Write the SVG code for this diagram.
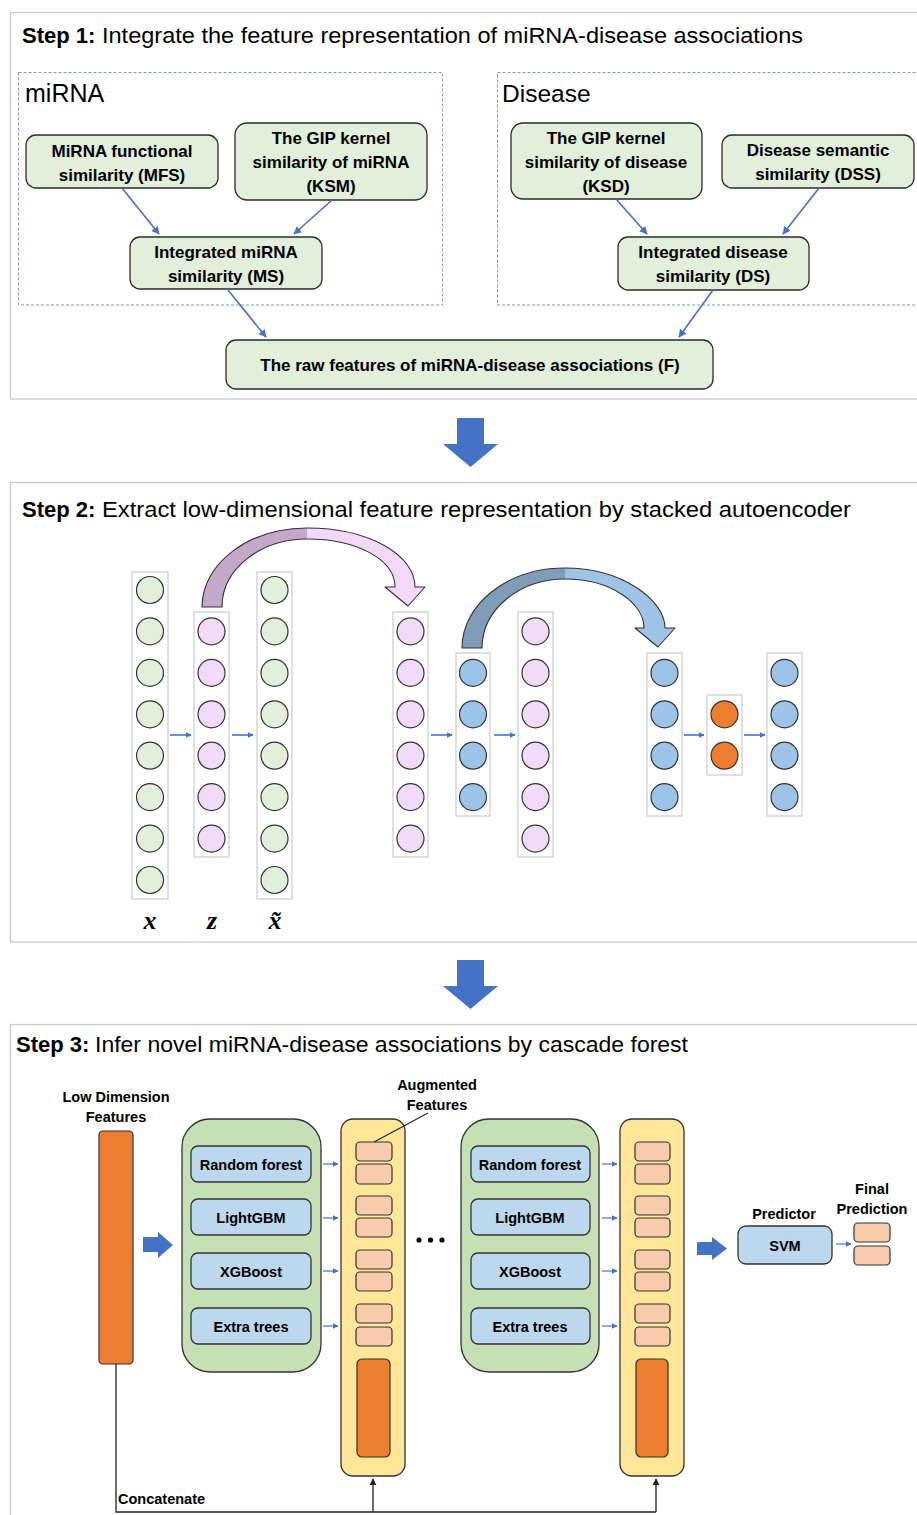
<svg xmlns="http://www.w3.org/2000/svg" width="917" height="1515" viewBox="0 0 917 1515">
<defs>
<style>
.panel{fill:#fff;stroke:#c3c8d1;stroke-width:1.3}
.dash{fill:none;stroke:#8497b0;stroke-width:1;stroke-dasharray:3 2}
.gnode{fill:#e2efda;stroke:#2b2b2b;stroke-width:1.3}
.t{font-family:"Liberation Sans",Arial,sans-serif;fill:#000}
.b{font-weight:bold}
.nt{font-family:"Liberation Sans",Arial,sans-serif;font-weight:bold;font-size:17px;text-anchor:middle;fill:#000}
.st{font-family:"Liberation Sans",Arial,sans-serif;font-weight:bold;font-size:14.5px;text-anchor:middle;fill:#000}
.conn{fill:none;stroke:#4472c4;stroke-width:1.6}
.sconn{fill:none;stroke:#4472c4;stroke-width:1.2}
.kconn{fill:none;stroke:#222;stroke-width:1.3}
.col{fill:#fff;stroke:#c8ccd2;stroke-width:1.2}
.cg{fill:#e2efda;stroke:#333;stroke-width:1.2}
.cp{fill:#f2dbf8;stroke:#333;stroke-width:1.2}
.cb{fill:#9dc3e6;stroke:#333;stroke-width:1.2}
.co{fill:#ed7d31;stroke:#333;stroke-width:1.2}
.big{fill:#4472c4}
.green{fill:#c5e0b4;stroke:#333;stroke-width:1.3}
.blue{fill:#bdd7ee;stroke:#333;stroke-width:1.3}
.yel{fill:#ffe699;stroke:#333;stroke-width:1.3}
.peach{fill:#f8cbad;stroke:#333;stroke-width:1.2}
.orange{fill:#ed7d31;stroke:#333;stroke-width:1.2}
.outl{fill:none;stroke:#333;stroke-width:1.1;stroke-linejoin:round}
.lab{font-family:"Liberation Serif","DejaVu Serif",serif;font-weight:bold;font-style:italic;font-size:26px;text-anchor:middle;fill:#000}
</style>
<marker id="ah" viewBox="0 0 10 10" refX="9" refY="5" markerWidth="8" markerHeight="8" markerUnits="userSpaceOnUse" orient="auto"><path d="M0,0 L10,5 L0,10 z" fill="#4472c4"/></marker>
<marker id="ahs" viewBox="0 0 10 10" refX="9" refY="5" markerWidth="6" markerHeight="6" markerUnits="userSpaceOnUse" orient="auto"><path d="M0,0 L10,5 L0,10 z" fill="#4472c4"/></marker>
<marker id="ahk" viewBox="0 0 10 10" refX="9" refY="5" markerWidth="7" markerHeight="7" markerUnits="userSpaceOnUse" orient="auto"><path d="M0,0 L10,5 L0,10 z" fill="#222"/></marker>
</defs>
<rect width="917" height="1515" fill="#fff"/>

<!-- Panel 1 -->
<g id="panel1">
<rect class="panel" x="10.5" y="12.5" width="920" height="386.5"/>
<text class="t b" x="22" y="43" font-size="22">Step 1:</text>
<text class="t" x="102" y="43" font-size="22" textLength="701" lengthAdjust="spacingAndGlyphs">Integrate the feature representation of miRNA-disease associations</text>
<rect class="dash" x="18.5" y="72.5" width="424" height="232.5"/>
<text class="t" x="25" y="102" font-size="25">miRNA</text>
<rect class="dash" x="497.5" y="72.5" width="430" height="232.5"/>
<text class="t" x="502" y="102" font-size="24.5">Disease</text>
</g>
<g id="MFS"><rect class="gnode" x="26" y="135" width="192" height="53" rx="10"/><text class="nt" x="122" y="157">MiRNA functional</text><text class="nt" x="122" y="181">similarity (MFS)</text></g>
<g id="KSM"><rect class="gnode" x="235" y="123" width="192" height="77" rx="12"/><text class="nt" x="331" y="144">The GIP kernel</text><text class="nt" x="331" y="168">similarity of miRNA</text><text class="nt" x="331" y="192">(KSM)</text></g>
<g id="MS"><rect class="gnode" x="130" y="237" width="192" height="52" rx="10"/><text class="nt" x="226" y="258">Integrated miRNA</text><text class="nt" x="226" y="282">similarity (MS)</text></g>
<g id="KSD"><rect class="gnode" x="511" y="123" width="191" height="76" rx="12"/><text class="nt" x="606" y="144">The GIP kernel</text><text class="nt" x="606" y="168">similarity of disease</text><text class="nt" x="606" y="192">(KSD)</text></g>
<g id="DSS"><rect class="gnode" x="722" y="135" width="192" height="53" rx="10"/><text class="nt" x="818" y="156">Disease semantic</text><text class="nt" x="818" y="180">similarity (DSS)</text></g>
<g id="DS"><rect class="gnode" x="618" y="237" width="191" height="53" rx="10"/><text class="nt" x="713" y="258">Integrated disease</text><text class="nt" x="713" y="282">similarity (DS)</text></g>
<g id="F"><rect class="gnode" x="226" y="340" width="487" height="49" rx="10"/><text class="nt" x="470" y="371">The raw features of miRNA-disease associations (F)</text></g>

<!-- Big arrows -->
<g id="bigarrow1"><path class="big" d="M457,418 H484 V444 H498 L470.5,467 L443,444 H457 Z"/></g>
<g id="bigarrow2"><path class="big" d="M457,960 H484 V986 H498 L470.5,1009 L443,986 H457 Z"/></g>

<!-- Panel 2 -->
<g id="panel2">
<rect class="panel" x="10.5" y="482.5" width="920" height="459.5"/>
<text class="t b" x="22" y="517" font-size="22">Step 2:</text>
<text class="t" x="102" y="517" font-size="22" textLength="749" lengthAdjust="spacingAndGlyphs">Extract low-dimensional feature representation by stacked autoencoder</text>
</g>
<g id="curve1">
<path d="M202,607 C202,563.4 249,528 307,528 L307,539 C260,539 222,569.5 222,607 Z" fill="#c3a8c9"/>
<path d="M307,528 C369,528 415,555 415,587 L425,587 L408,606 L385,587 L395,587 C395,560 358,539 307,539 Z" fill="#f2d9f8"/>
<path class="outl" d="M202,607 C202,563.4 249,528 307,528 C369,528 415,555 415,587 L425,587 L408,606 L385,587 L395,587 C395,560 358,539 307,539 C260,539 222,569.5 222,607 Z"/>
</g>
<g id="curve2">
<path d="M462,648 C462,604 508,568 565,568 L565,579 C519,579 482,610 482,648 Z" fill="#7f9cb9"/>
<path d="M565,568 C622,568 665,600 665,628 L675,628 L658,647 L635,628 L644,628 C644,604 612,579 565,579 Z" fill="#9dc3e6"/>
<path class="outl" d="M462,648 C462,604 508,568 565,568 C622,568 665,600 665,628 L675,628 L658,647 L635,628 L644,628 C644,604 612,579 565,579 C519,579 482,610 482,648 Z"/>
</g>
<g id="colX"><rect class="col" x="132" y="572" width="36" height="327"/>
<circle class="cg" cx="150" cy="590" r="13.5"/><circle class="cg" cx="150" cy="631.4" r="13.5"/><circle class="cg" cx="150" cy="672.9" r="13.5"/><circle class="cg" cx="150" cy="714.3" r="13.5"/><circle class="cg" cx="150" cy="755.7" r="13.5"/><circle class="cg" cx="150" cy="797.1" r="13.5"/><circle class="cg" cx="150" cy="838.6" r="13.5"/><circle class="cg" cx="150" cy="880" r="13.5"/></g>
<g id="colZ"><rect class="col" x="194" y="612" width="35" height="245"/>
<circle class="cp" cx="211.5" cy="631.4" r="13.5"/><circle class="cp" cx="211.5" cy="672.9" r="13.5"/><circle class="cp" cx="211.5" cy="714.3" r="13.5"/><circle class="cp" cx="211.5" cy="755.7" r="13.5"/><circle class="cp" cx="211.5" cy="797.1" r="13.5"/><circle class="cp" cx="211.5" cy="838.6" r="13.5"/></g>
<g id="colXt"><rect class="col" x="257" y="572" width="35" height="327"/>
<circle class="cg" cx="274.5" cy="590" r="13.5"/><circle class="cg" cx="274.5" cy="631.4" r="13.5"/><circle class="cg" cx="274.5" cy="672.9" r="13.5"/><circle class="cg" cx="274.5" cy="714.3" r="13.5"/><circle class="cg" cx="274.5" cy="755.7" r="13.5"/><circle class="cg" cx="274.5" cy="797.1" r="13.5"/><circle class="cg" cx="274.5" cy="838.6" r="13.5"/><circle class="cg" cx="274.5" cy="880" r="13.5"/></g>
<g id="col4"><rect class="col" x="393" y="612" width="35" height="245"/>
<circle class="cp" cx="410.5" cy="631.4" r="13.5"/><circle class="cp" cx="410.5" cy="672.9" r="13.5"/><circle class="cp" cx="410.5" cy="714.3" r="13.5"/><circle class="cp" cx="410.5" cy="755.7" r="13.5"/><circle class="cp" cx="410.5" cy="797.1" r="13.5"/><circle class="cp" cx="410.5" cy="838.6" r="13.5"/></g>
<g id="col5"><rect class="col" x="456" y="653" width="34" height="163"/>
<circle class="cb" cx="473" cy="672.9" r="13.5"/><circle class="cb" cx="473" cy="714.3" r="13.5"/><circle class="cb" cx="473" cy="755.7" r="13.5"/><circle class="cb" cx="473" cy="797.1" r="13.5"/></g>
<g id="col6"><rect class="col" x="518" y="612" width="35" height="245"/>
<circle class="cp" cx="535.5" cy="631.4" r="13.5"/><circle class="cp" cx="535.5" cy="672.9" r="13.5"/><circle class="cp" cx="535.5" cy="714.3" r="13.5"/><circle class="cp" cx="535.5" cy="755.7" r="13.5"/><circle class="cp" cx="535.5" cy="797.1" r="13.5"/><circle class="cp" cx="535.5" cy="838.6" r="13.5"/></g>
<g id="col7"><rect class="col" x="647" y="653" width="35" height="163"/>
<circle class="cb" cx="664.5" cy="672.9" r="13.5"/><circle class="cb" cx="664.5" cy="714.3" r="13.5"/><circle class="cb" cx="664.5" cy="755.7" r="13.5"/><circle class="cb" cx="664.5" cy="797.1" r="13.5"/></g>
<g id="col8"><rect class="col" x="707" y="695" width="35" height="80"/>
<circle class="co" cx="724.5" cy="714.3" r="13.5"/><circle class="co" cx="724.5" cy="755.7" r="13.5"/></g>
<g id="col9"><rect class="col" x="767" y="653" width="35" height="163"/>
<circle class="cb" cx="784.5" cy="672.9" r="13.5"/><circle class="cb" cx="784.5" cy="714.3" r="13.5"/><circle class="cb" cx="784.5" cy="755.7" r="13.5"/><circle class="cb" cx="784.5" cy="797.1" r="13.5"/></g>
<g id="labels2">
<text class="lab" x="150" y="929">x</text>
<text class="lab" x="212" y="929">z</text>
<text class="lab" x="275" y="929">x̃</text>
</g>

<!-- Panel 3 -->
<g id="panel3">
<rect class="panel" x="10.5" y="1024.5" width="920" height="520"/>
<text class="t b" x="16" y="1052" font-size="22">Step 3:</text>
<text class="t" x="95" y="1052" font-size="22" textLength="593" lengthAdjust="spacingAndGlyphs">Infer novel miRNA-disease associations by cascade forest</text>
</g>
<g id="lowdim">
<text class="st" x="116" y="1102">Low Dimension</text>
<text class="st" x="116" y="1122">Features</text>
<rect class="orange" x="99" y="1131" width="34" height="233" rx="4"/>
</g>
<g id="arrowR1"><path class="big" d="M143,1237 H158 V1232 L173,1245 L158,1258 V1252 H143 Z"/></g>
<g id="level1">
<rect class="green" x="182" y="1119" width="139" height="253" rx="28"/>
<rect class="blue" x="191" y="1146" width="120" height="36" rx="7"/><text class="st" x="251" y="1169.5">Random forest</text>
<rect class="blue" x="191" y="1199" width="120" height="36" rx="7"/><text class="st" x="251" y="1222.5">LightGBM</text>
<rect class="blue" x="191" y="1253" width="120" height="36" rx="7"/><text class="st" x="251" y="1276.5">XGBoost</text>
<rect class="blue" x="191" y="1308" width="120" height="36" rx="7"/><text class="st" x="251" y="1331.5">Extra trees</text>
</g>
<g id="aug1">
<rect class="yel" x="341" y="1119" width="64" height="357" rx="12"/>
<rect class="peach" x="356" y="1142" width="36" height="19" rx="4"/><rect class="peach" x="356" y="1164" width="36" height="20" rx="4"/>
<rect class="peach" x="356" y="1196" width="36" height="19" rx="4"/><rect class="peach" x="356" y="1218" width="36" height="19" rx="4"/>
<rect class="peach" x="356" y="1250" width="36" height="19" rx="4"/><rect class="peach" x="356" y="1272" width="36" height="19" rx="4"/>
<rect class="peach" x="356" y="1304" width="36" height="19" rx="4"/><rect class="peach" x="356" y="1327" width="36" height="19" rx="4"/>
<rect class="orange" x="357" y="1359" width="33" height="98" rx="5"/>
</g>
<g id="augLabel">
<text class="st" x="437" y="1090">Augmented</text>
<text class="st" x="437" y="1110">Features</text>
</g>
<g id="dots"><circle cx="419" cy="1240" r="2.6" fill="#000"/><circle cx="430.5" cy="1240" r="2.6" fill="#000"/><circle cx="442" cy="1240" r="2.6" fill="#000"/></g>
<g id="level2">
<rect class="green" x="461" y="1119" width="138" height="253" rx="28"/>
<rect class="blue" x="471" y="1146" width="119" height="36" rx="7"/><text class="st" x="530" y="1169.5">Random forest</text>
<rect class="blue" x="471" y="1199" width="119" height="36" rx="7"/><text class="st" x="530" y="1222.5">LightGBM</text>
<rect class="blue" x="471" y="1253" width="119" height="36" rx="7"/><text class="st" x="530" y="1276.5">XGBoost</text>
<rect class="blue" x="471" y="1308" width="119" height="36" rx="7"/><text class="st" x="530" y="1331.5">Extra trees</text>
</g>
<g id="aug2">
<rect class="yel" x="620" y="1119" width="64" height="357" rx="12"/>
<rect class="peach" x="635" y="1142" width="35" height="19" rx="4"/><rect class="peach" x="635" y="1164" width="35" height="20" rx="4"/>
<rect class="peach" x="635" y="1196" width="35" height="19" rx="4"/><rect class="peach" x="635" y="1218" width="35" height="19" rx="4"/>
<rect class="peach" x="635" y="1250" width="35" height="19" rx="4"/><rect class="peach" x="635" y="1272" width="35" height="19" rx="4"/>
<rect class="peach" x="635" y="1304" width="35" height="19" rx="4"/><rect class="peach" x="635" y="1327" width="35" height="19" rx="4"/>
<rect class="orange" x="636" y="1359" width="32" height="98" rx="5"/>
</g>
<g id="arrowR2"><path class="big" d="M697,1242 H712 V1237 L727,1248.5 L712,1260 V1255 H697 Z"/></g>
<g id="svm">
<text class="st" x="784" y="1219">Predictor</text>
<rect class="blue" x="738" y="1226" width="94" height="38" rx="8"/><text class="st" x="785" y="1251">SVM</text>
</g>
<g id="final">
<text class="st" x="872" y="1194">Final</text>
<text class="st" x="872" y="1214">Prediction</text>
<rect class="peach" x="854" y="1223" width="36" height="19" rx="4"/><rect class="peach" x="854" y="1246" width="36" height="19" rx="4"/>
</g>
<text class="st" x="118" y="1504" style="text-anchor:start">Concatenate</text>

<!-- Connectors -->
<g id="connectors">
<line class="conn" x1="122" y1="188" x2="159" y2="234" marker-end="url(#ah)"/>
<line class="conn" x1="332" y1="200" x2="294" y2="234" marker-end="url(#ah)"/>
<line class="conn" x1="616" y1="199" x2="647" y2="234" marker-end="url(#ah)"/>
<line class="conn" x1="819" y1="188" x2="783" y2="234" marker-end="url(#ah)"/>
<line class="conn" x1="228" y1="290" x2="266" y2="337" marker-end="url(#ah)"/>
<line class="conn" x1="713" y1="290" x2="679" y2="337" marker-end="url(#ah)"/>
<line class="conn" x1="170" y1="735" x2="191" y2="735" marker-end="url(#ahs)"/>
<line class="conn" x1="232" y1="735" x2="253" y2="735" marker-end="url(#ahs)"/>
<line class="conn" x1="431" y1="735" x2="452" y2="735" marker-end="url(#ahs)"/>
<line class="conn" x1="494" y1="735" x2="515" y2="735" marker-end="url(#ahs)"/>
<line class="conn" x1="684" y1="735" x2="704" y2="735" marker-end="url(#ahs)"/>
<line class="conn" x1="744" y1="735" x2="765" y2="735" marker-end="url(#ahs)"/>
<line class="sconn" x1="323" y1="1164" x2="338" y2="1164" marker-end="url(#ahs)"/>
<line class="sconn" x1="323" y1="1218" x2="338" y2="1218" marker-end="url(#ahs)"/>
<line class="sconn" x1="323" y1="1271" x2="338" y2="1271" marker-end="url(#ahs)"/>
<line class="sconn" x1="323" y1="1326" x2="338" y2="1326" marker-end="url(#ahs)"/>
<line class="sconn" x1="602" y1="1164" x2="617" y2="1164" marker-end="url(#ahs)"/>
<line class="sconn" x1="602" y1="1218" x2="617" y2="1218" marker-end="url(#ahs)"/>
<line class="sconn" x1="602" y1="1271" x2="617" y2="1271" marker-end="url(#ahs)"/>
<line class="sconn" x1="602" y1="1326" x2="617" y2="1326" marker-end="url(#ahs)"/>
<line class="sconn" x1="836" y1="1244" x2="851" y2="1244" marker-end="url(#ahs)"/>
<line x1="374" y1="1142" x2="428" y2="1113" stroke="#222" stroke-width="1.1"/>
<polyline class="kconn" points="116,1364 116,1512 656,1512"/>
<line class="kconn" x1="373" y1="1512" x2="373" y2="1479" marker-end="url(#ahk)"/>
<line class="kconn" x1="656" y1="1512" x2="656" y2="1479" marker-end="url(#ahk)"/>
</g>
</svg>
